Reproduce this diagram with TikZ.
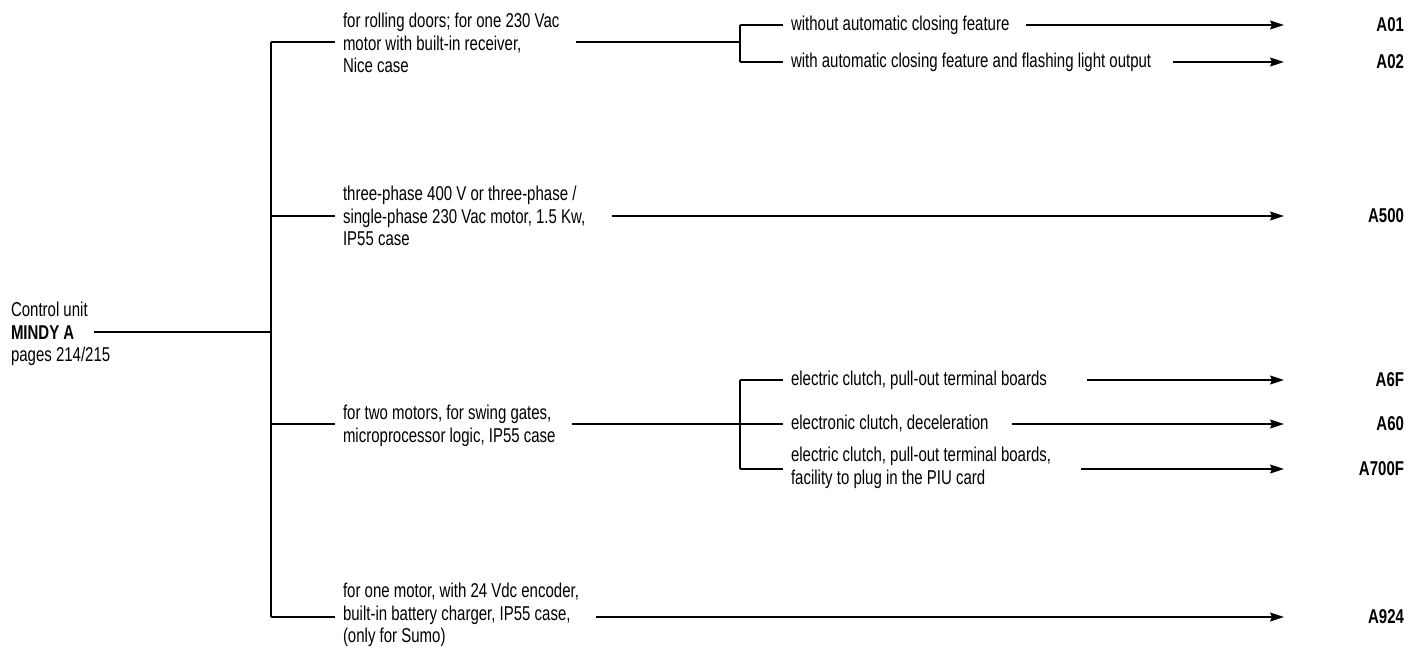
\documentclass[tikz,border=0pt]{standalone}
\usepackage{fontspec}
\setmainfont{Liberation Sans}[FakeStretch=0.75]
\usetikzlibrary{arrows.meta,calc}
\begin{document}
\begin{tikzpicture}[x=1pt,y=-1pt,
  every node/.style={inner sep=0pt,outer sep=0pt},
  txt/.style={anchor=west,align=left,font=\fontsize{20}{22.5}\selectfont},
  lbl/.style={anchor=east,font=\fontsize{20}{22.5}\selectfont\bfseries},
  ln/.style={line width=1.1pt},
  arr/.style={line width=1.1pt,-{Stealth[length=14pt,width=9pt,inset=2pt]}},
  gap/.style={shorten >=8pt}]
\useasboundingbox (0,0) rectangle (1409,653);

% text nodes
\node[txt] (root) at (11,334) {Control unit\\\textbf{MINDY A}\\pages 214/215};
\node[txt] (b1) at (343,43) {for rolling doors; for one 230 Vac\\motor with built-in receiver,\\Nice case};
\node[txt] (b2) at (343,216) {three-phase 400 V or three-phase /\\single-phase 230 Vac motor, 1.5 Kw,\\IP55 case};
\node[txt] (b3) at (343,426) {for two motors, for swing gates,\\microprocessor logic, IP55 case};
\node[txt] (b4) at (343,615) {for one motor, with 24 Vdc encoder,\\built-in battery charger, IP55 case,\\(only for Sumo)};

\node[txt] (s11) at (791,25) {without automatic closing feature};
\node[txt] (s12) at (791,62) {with automatic closing feature and flashing light output};
\node[txt] (s31) at (791,380) {electric clutch, pull-out terminal boards};
\node[txt] (s32) at (791,424) {electronic clutch, deceleration};
\node[txt] (s33) at (791,468) {electric clutch, pull-out terminal boards,\\facility to plug in the PIU card};

\node[lbl] (l11) at (1404,25) {A01};
\node[lbl] (l12) at (1404,62) {A02};
\node[lbl] (l2) at (1404,216) {A500};
\node[lbl] (l31) at (1404,380) {A6F};
\node[lbl] (l32) at (1404,424) {A60};
\node[lbl] (l33) at (1404,469) {A700F};
\node[lbl] (l4) at (1404,617) {A924};

% coordinates
\coordinate (r0) at (94,332);
\coordinate (t1) at (271,42);
\coordinate (t4) at (271,617);
\coordinate (tip) at (1284,0);
\coordinate (c1) at (576,42);
\coordinate (j1a) at (740,25);
\coordinate (j1b) at (740,62);
\coordinate (c3) at (572,424);
\coordinate (j3a) at (740,380);
\coordinate (j3b) at (740,469);
\coordinate (a2) at (612,216);
\coordinate (a4) at (596,617);
\coordinate (a11) at (1026,25);
\coordinate (a12) at (1173,62);
\coordinate (a31) at (1087,380);
\coordinate (a32) at (1012,424);
\coordinate (a33) at (1081,469);

% trunk
\draw[ln] (r0) -- (r0 -| t1);
\draw[ln] (t1) -- (t4);
\draw[ln,gap] (t1) -- (t1 -| b1.west);
\draw[ln,gap] (t1 |- a2) -- (a2 -| b2.west);
\draw[ln,gap] (t1 |- c3) -- (c3 -| b3.west);
\draw[ln,gap] (t4) -- (t4 -| b4.west);

% branch 1
\draw[ln] (c1) -- (c1 -| j1a);
\draw[ln] (j1a) -- (j1b);
\draw[ln,gap] (j1a) -- (j1a -| s11.west);
\draw[ln,gap] (j1b) -- (j1b -| s12.west);
\draw[arr] (a11) -- (a11 -| tip);
\draw[arr] (a12) -- (a12 -| tip);

% branch 2
\draw[arr] (a2) -- (a2 -| tip);

% branch 3
\draw[ln,gap] (c3) -- (c3 -| s32.west);
\draw[ln] (j3a) -- (j3b);
\draw[ln,gap] (j3a) -- (j3a -| s31.west);
\draw[ln,gap] (j3b) -- (j3b -| s33.west);
\draw[arr] (a31) -- (a31 -| tip);
\draw[arr] (a32) -- (a32 -| tip);
\draw[arr] (a33) -- (a33 -| tip);

% branch 4
\draw[arr] (a4) -- (a4 -| tip);
\end{tikzpicture}
\end{document}
